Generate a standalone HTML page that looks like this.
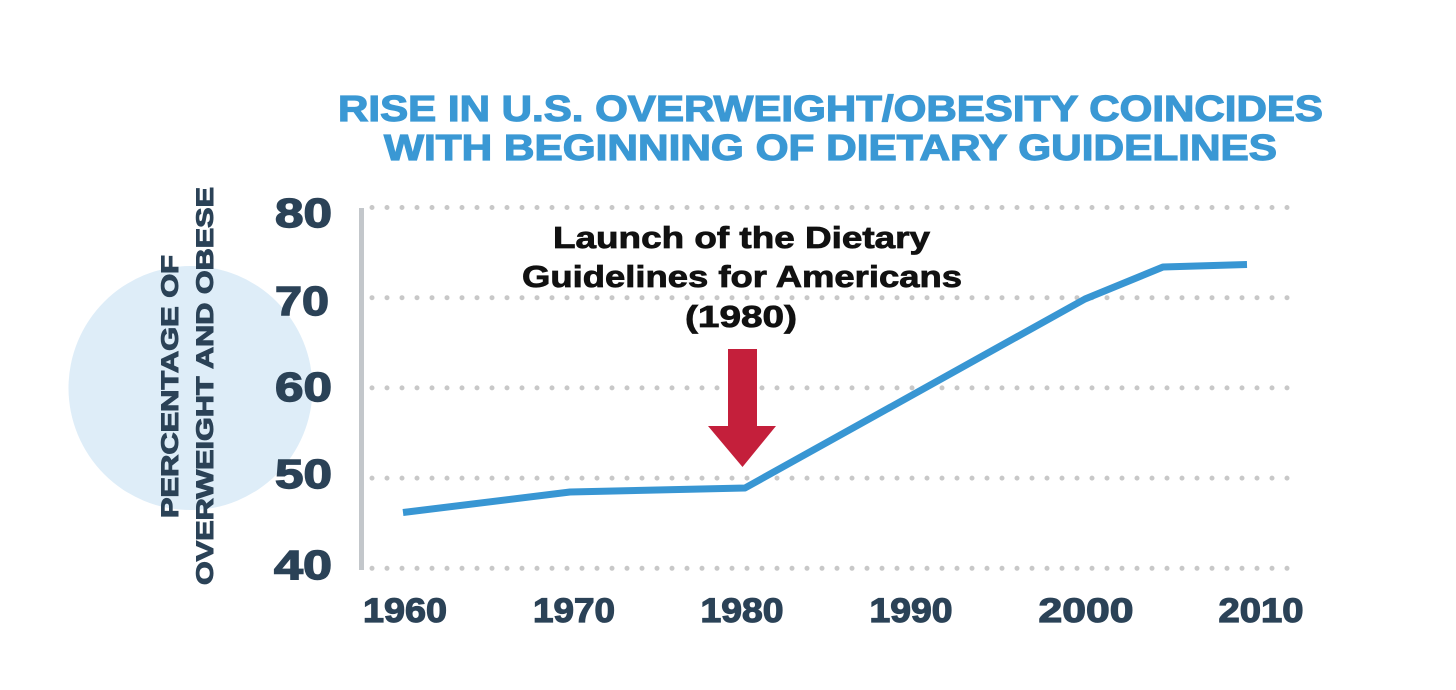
<!DOCTYPE html>
<html>
<head>
<meta charset="utf-8">
<style>
  html,body{margin:0;padding:0;background:#fff;}
  svg{display:block;}
  text{font-family:"Liberation Sans", "DejaVu Sans", sans-serif;font-weight:bold;}
</style>
</head>
<body>
<svg width="1456" height="690" viewBox="0 0 1456 690" xmlns="http://www.w3.org/2000/svg">
  <rect x="0" y="0" width="1456" height="690" fill="#ffffff"/>

  <!-- Title -->
  <g fill="#3a98d4" stroke="#3a98d4" stroke-width="1.2" text-anchor="middle">
    <text x="830.5" y="121" font-size="36" textLength="985" lengthAdjust="spacingAndGlyphs">RISE IN U.S. OVERWEIGHT/OBESITY COINCIDES</text>
    <text x="830.5" y="160" font-size="36" textLength="893" lengthAdjust="spacingAndGlyphs">WITH BEGINNING OF DIETARY GUIDELINES</text>
  </g>

  <!-- light circle -->
  <circle cx="190.5" cy="388" r="122" fill="#deedf8"/>

  <!-- Y axis title -->
  <g fill="#2b4257" stroke="#2b4257" stroke-width="1" text-anchor="middle">
    <text transform="translate(178,386.5) rotate(-90)" font-size="24" textLength="263" lengthAdjust="spacingAndGlyphs">PERCENTAGE OF</text>
    <text transform="translate(213,386) rotate(-90)" font-size="24" textLength="398" lengthAdjust="spacingAndGlyphs">OVERWEIGHT AND OBESE</text>
  </g>

  <!-- Y tick labels -->
  <g font-size="41" fill="#2b4257" stroke="#2b4257" stroke-width="1.4" text-anchor="end">
    <text x="332" y="227" textLength="57" lengthAdjust="spacingAndGlyphs">80</text>
    <text x="329" y="315" textLength="54" lengthAdjust="spacingAndGlyphs">70</text>
    <text x="332" y="401" textLength="57" lengthAdjust="spacingAndGlyphs">60</text>
    <text x="332" y="488" textLength="57" lengthAdjust="spacingAndGlyphs">50</text>
    <text x="332" y="579" textLength="58" lengthAdjust="spacingAndGlyphs">40</text>
  </g>

  <!-- axis line -->
  <line x1="361.5" y1="208" x2="361.5" y2="570" stroke="#c3c7cb" stroke-width="5"/>

  <!-- dotted gridlines -->
  <g stroke="#c8c8c8" stroke-width="5" stroke-linecap="round" stroke-dasharray="0 15">
    <line x1="372" y1="207.5" x2="1290" y2="207.5"/>
    <line x1="372" y1="297.7" x2="1290" y2="297.7"/>
    <line x1="372" y1="387.9" x2="1290" y2="387.9"/>
    <line x1="372" y1="478.1" x2="1290" y2="478.1"/>
    <line x1="372" y1="568.3" x2="1290" y2="568.3"/>
  </g>

  <!-- X tick labels -->
  <g font-size="34" fill="#2b4257" stroke="#2b4257" stroke-width="1.2" text-anchor="middle">
    <text x="405" y="622" textLength="84" lengthAdjust="spacingAndGlyphs">1960</text>
    <text x="574" y="622" textLength="82" lengthAdjust="spacingAndGlyphs">1970</text>
    <text x="742" y="622" textLength="83" lengthAdjust="spacingAndGlyphs">1980</text>
    <text x="911" y="622" textLength="83" lengthAdjust="spacingAndGlyphs">1990</text>
    <text x="1086" y="622" textLength="95" lengthAdjust="spacingAndGlyphs">2000</text>
    <text x="1261" y="622" textLength="85" lengthAdjust="spacingAndGlyphs">2010</text>
  </g>

  <!-- data line -->
  <polyline points="403,512.5 570,492 745,488 1085,299 1163,267 1247,264.5" fill="none" stroke="#3896d3" stroke-width="7" stroke-linejoin="round" stroke-linecap="butt"/>

  <!-- annotation -->
  <g font-size="31" fill="#111111" stroke="#111111" stroke-width="0.8" text-anchor="middle">
    <text x="741.5" y="248" textLength="377" lengthAdjust="spacingAndGlyphs">Launch of the Dietary</text>
    <text x="742" y="287" textLength="440" lengthAdjust="spacingAndGlyphs">Guidelines for Americans</text>
    <text x="741" y="327" textLength="112" lengthAdjust="spacingAndGlyphs">(1980)</text>
  </g>

  <!-- red arrow -->
  <polygon points="728,349 757,349 757,426 776,426 742.5,467 708,426 728,426" fill="#c41f3b"/>
</svg>
</body>
</html>
